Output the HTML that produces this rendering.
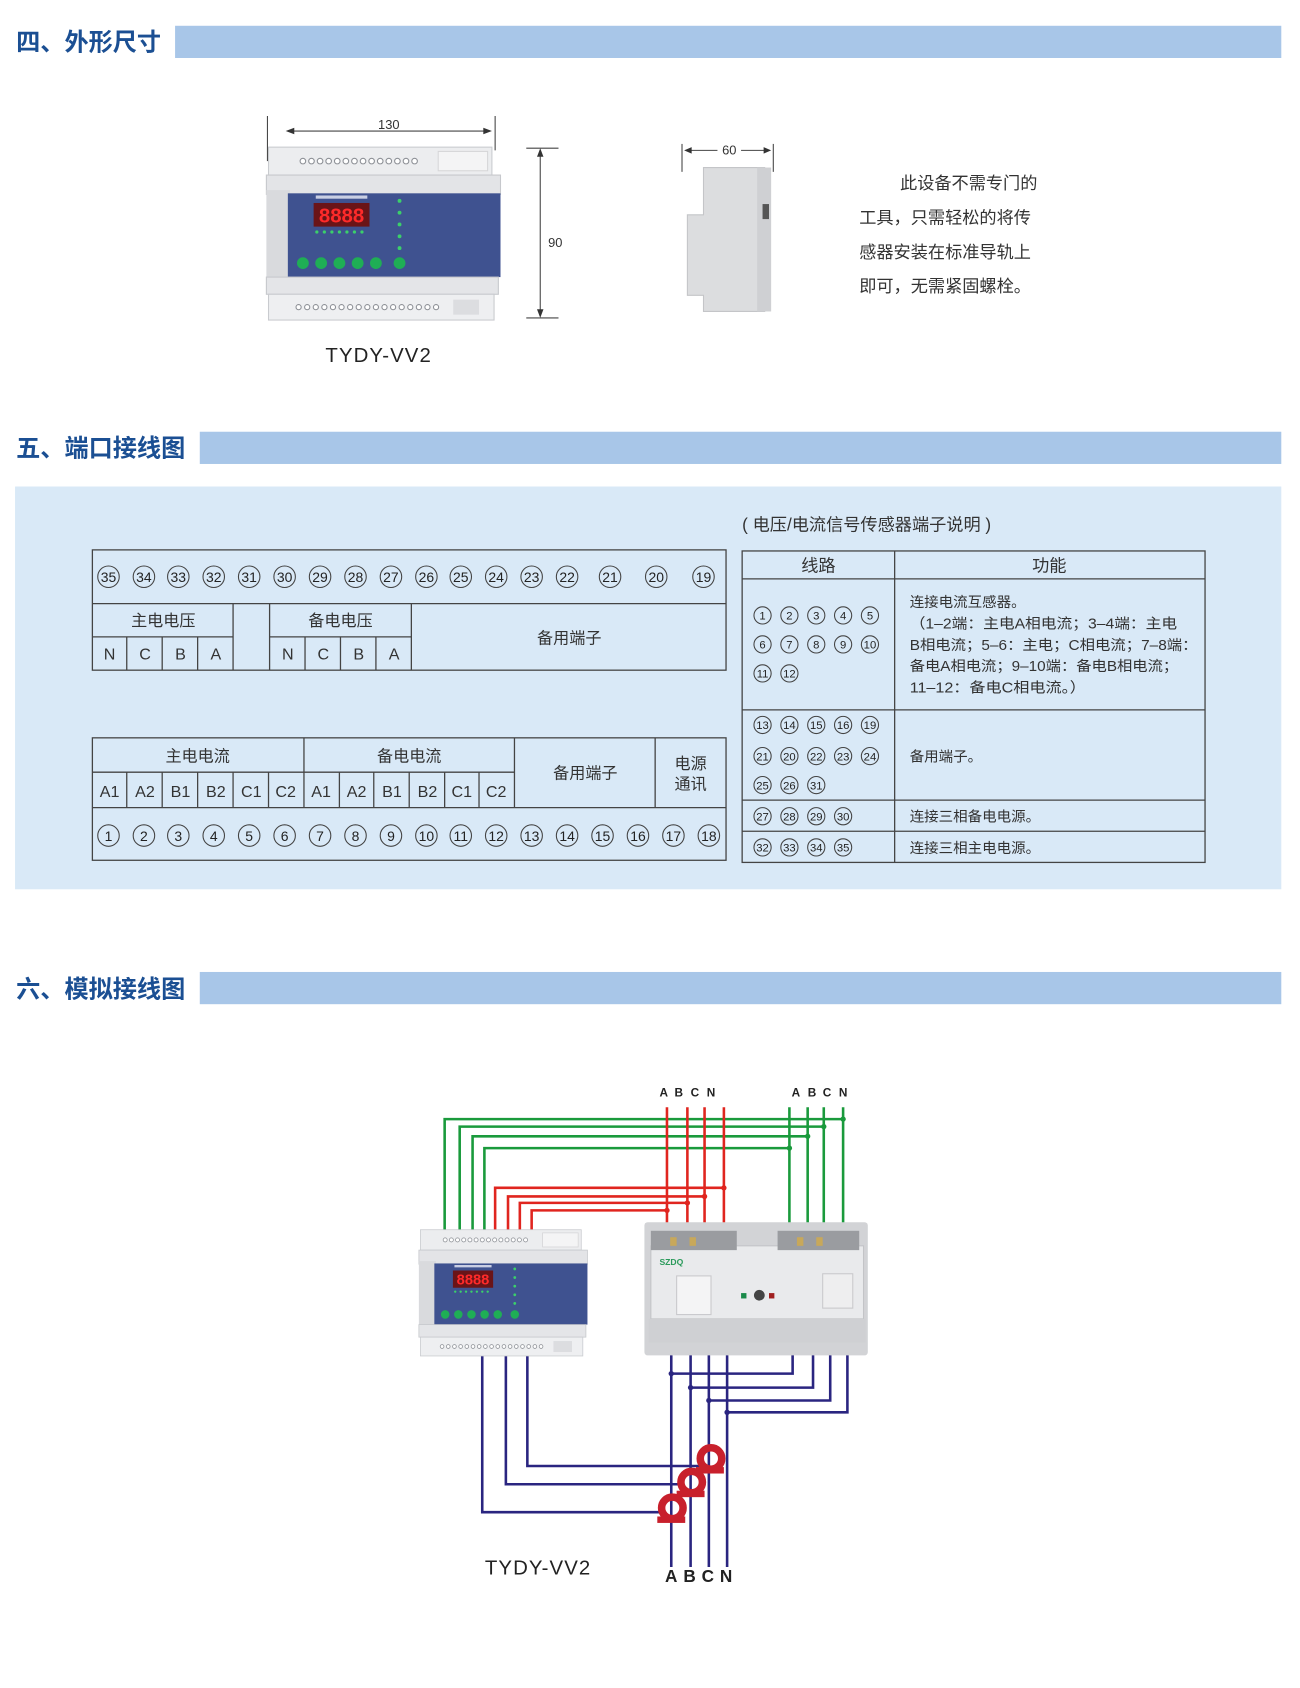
<!DOCTYPE html>
<html><head><meta charset="utf-8"><style>
html,body{margin:0;padding:0;background:#fff;width:1300px;height:1688px;overflow:hidden}
svg{display:block}
text{font-family:"Liberation Sans","Noto Sans CJK SC",sans-serif}
</style></head><body>
<svg xmlns="http://www.w3.org/2000/svg" width="1300" height="1688" viewBox="0 0 1210.4 1571.7">
<defs>
<g id="dev">
  <rect x="2" y="0" width="208" height="26" fill="#ecedef" stroke="#c9cbcf"/>
  <rect x="160" y="4" width="46" height="18" fill="#f4f4f5" stroke="#d6d6d8"/>
  <g fill="#fff" stroke="#8d9096" stroke-width="1">
    <circle cx="34" cy="13" r="2.6"/><circle cx="42" cy="13" r="2.6"/><circle cx="50" cy="13" r="2.6"/><circle cx="58" cy="13" r="2.6"/><circle cx="66" cy="13" r="2.6"/><circle cx="74" cy="13" r="2.6"/><circle cx="82" cy="13" r="2.6"/><circle cx="90" cy="13" r="2.6"/><circle cx="98" cy="13" r="2.6"/><circle cx="106" cy="13" r="2.6"/><circle cx="114" cy="13" r="2.6"/><circle cx="122" cy="13" r="2.6"/><circle cx="130" cy="13" r="2.6"/><circle cx="138" cy="13" r="2.6"/>
  </g>
  <rect x="0" y="26" width="218" height="18" fill="#e3e4e7" stroke="#c6c8cc"/>
  <rect x="0" y="40" width="22" height="86" fill="#d9dadd"/>
  <rect x="20" y="43" width="198" height="78" fill="#3f5290"/>
  <rect x="44" y="52" width="52" height="22" fill="#6a1418"/>
  <text x="70" y="70" font-size="19" fill="#ff2a2a" text-anchor="middle" font-weight="bold" font-family="Liberation Mono">8888</text>
  <rect x="46" y="45" width="48" height="3" fill="#c9cfe4"/>
  <g fill="#3bd06a"><circle cx="47" cy="79" r="1.5"/><circle cx="54" cy="79" r="1.5"/><circle cx="61" cy="79" r="1.5"/><circle cx="68" cy="79" r="1.5"/><circle cx="75" cy="79" r="1.5"/><circle cx="82" cy="79" r="1.5"/><circle cx="89" cy="79" r="1.5"/>
  <circle cx="124" cy="50" r="1.8"/><circle cx="124" cy="61" r="1.8"/><circle cx="124" cy="72" r="1.8"/><circle cx="124" cy="83" r="1.8"/><circle cx="124" cy="94" r="1.8"/></g>
  <g fill="#1fae55"><circle cx="34" cy="108" r="5.5"/><circle cx="51" cy="108" r="5.5"/><circle cx="68" cy="108" r="5.5"/><circle cx="85" cy="108" r="5.5"/><circle cx="102" cy="108" r="5.5"/><circle cx="124" cy="108" r="5.5"/></g>
  <rect x="0" y="121" width="216" height="16" fill="#e4e5e8" stroke="#c6c8cc"/>
  <rect x="2" y="137" width="210" height="24" fill="#eeeff1" stroke="#c9cbcf"/>
  <g fill="#fff" stroke="#8d9096" stroke-width="1">
    <circle cx="30" cy="149" r="2.4"/><circle cx="38" cy="149" r="2.4"/><circle cx="46" cy="149" r="2.4"/><circle cx="54" cy="149" r="2.4"/><circle cx="62" cy="149" r="2.4"/><circle cx="70" cy="149" r="2.4"/><circle cx="78" cy="149" r="2.4"/><circle cx="86" cy="149" r="2.4"/><circle cx="94" cy="149" r="2.4"/><circle cx="102" cy="149" r="2.4"/><circle cx="110" cy="149" r="2.4"/><circle cx="118" cy="149" r="2.4"/><circle cx="126" cy="149" r="2.4"/><circle cx="134" cy="149" r="2.4"/><circle cx="142" cy="149" r="2.4"/><circle cx="150" cy="149" r="2.4"/><circle cx="158" cy="149" r="2.4"/>
  </g>
  <rect x="174" y="142" width="24" height="14" fill="#dcdde0"/>
</g>
</defs>

<!-- Section 4 header -->
<text x="15" y="47" font-size="22.5" font-weight="bold" fill="#1b4f93">四、外形尺寸</text>
<rect x="163" y="24" width="1030" height="30" fill="#a8c6e8"/>

<!-- dimension lines -->
<g stroke="#444" stroke-width="1" fill="none">
  <line x1="249" y1="108" x2="249" y2="150"/><line x1="461" y1="108" x2="461" y2="140"/>
  <line x1="268" y1="122" x2="456" y2="122"/>
  <line x1="490" y1="138" x2="520" y2="138"/><line x1="490" y1="296" x2="520" y2="296"/>
  <line x1="503" y1="140" x2="503" y2="294"/>
  <line x1="635" y1="134" x2="635" y2="160"/><line x1="720" y1="134" x2="720" y2="160"/>
  <line x1="639" y1="140" x2="668" y2="140"/><line x1="690" y1="140" x2="716" y2="140"/>
</g>
<g fill="#333">
  <path d="M266 122 l8 -3 v6z"/><path d="M458 122 l-8 -3 v6z"/>
  <path d="M503 138 l-3 8 h6z"/><path d="M503 296 l-3 -8 h6z"/>
  <path d="M637 140 l7 -3 v6z"/><path d="M718 140 l-7 -3 v6z"/>
</g>
<text x="362" y="120" font-size="12" fill="#333" text-anchor="middle">130</text>
<text x="517" y="230" font-size="12" fill="#333" text-anchor="middle">90</text>
<text x="679" y="144" font-size="12" fill="#333" text-anchor="middle">60</text>
<use href="#dev" transform="translate(248,137)"/>
<!-- side view -->
<path d="M655 156 H712 V290 H655 V275 H640 V200 H655 Z" fill="#dcdddf" stroke="#c4c5c8"/>
<rect x="705" y="156" width="13" height="134" fill="#cfd0d3"/>
<rect x="710" y="190" width="6" height="14" fill="#555"/>
<text x="303" y="337" font-size="19" fill="#222" letter-spacing="1">TYDY-VV2</text>
<g font-size="16" fill="#333">
<text x="838" y="176">此设备不需专门的</text>
<text x="800" y="208">工具，只需轻松的将传</text>
<text x="800" y="240">感器安装在标准导轨上</text>
<text x="800" y="272">即可，无需紧固螺栓。</text>
</g>

<!-- Section 5 header -->
<text x="15" y="425" font-size="22.5" font-weight="bold" fill="#1b4f93">五、端口接线图</text>
<rect x="186" y="402" width="1007" height="30" fill="#a8c6e8"/>
<rect x="14" y="453" width="1179" height="375" fill="#d9e9f7"/>

<!-- top left table -->
<g stroke="#444" stroke-width="1.2" fill="none">
  <rect x="86" y="512" width="590" height="112"/>
  <line x1="86" y1="562" x2="676" y2="562"/>
  <line x1="86" y1="593" x2="217" y2="593"/><line x1="251" y1="593" x2="383" y2="593"/>
  <line x1="118" y1="593" x2="118" y2="624"/><line x1="151" y1="593" x2="151" y2="624"/><line x1="184" y1="593" x2="184" y2="624"/>
  <line x1="217" y1="562" x2="217" y2="624"/><line x1="251" y1="562" x2="251" y2="624"/>
  <line x1="284" y1="593" x2="284" y2="624"/><line x1="317" y1="593" x2="317" y2="624"/><line x1="350" y1="593" x2="350" y2="624"/>
  <line x1="383" y1="562" x2="383" y2="624"/>
  <g stroke-width="1">
  <circle cx="101" cy="537" r="10"/><circle cx="134" cy="537" r="10"/><circle cx="166" cy="537" r="10"/><circle cx="199" cy="537" r="10"/><circle cx="232" cy="537" r="10"/><circle cx="265" cy="537" r="10"/><circle cx="298" cy="537" r="10"/><circle cx="331" cy="537" r="10"/><circle cx="364" cy="537" r="10"/><circle cx="397" cy="537" r="10"/><circle cx="429" cy="537" r="10"/><circle cx="462" cy="537" r="10"/><circle cx="495" cy="537" r="10"/><circle cx="528" cy="537" r="10"/><circle cx="568" cy="537" r="10"/><circle cx="611" cy="537" r="10"/><circle cx="655" cy="537" r="10"/>
  </g>
</g>
<g font-size="13" fill="#222" text-anchor="middle">
<text x="101" y="542">35</text><text x="134" y="542">34</text><text x="166" y="542">33</text><text x="199" y="542">32</text><text x="232" y="542">31</text><text x="265" y="542">30</text><text x="298" y="542">29</text><text x="331" y="542">28</text><text x="364" y="542">27</text><text x="397" y="542">26</text><text x="429" y="542">25</text><text x="462" y="542">24</text><text x="495" y="542">23</text><text x="528" y="542">22</text><text x="568" y="542">21</text><text x="611" y="542">20</text><text x="655" y="542">19</text>
</g>
<g font-size="15" fill="#333" text-anchor="middle">
<text x="152" y="583">主电电压</text><text x="317" y="583">备电电压</text><text x="530" y="599">备用端子</text>
<text x="102" y="614">N</text><text x="135" y="614">C</text><text x="168" y="614">B</text><text x="201" y="614">A</text>
<text x="268" y="614">N</text><text x="301" y="614">C</text><text x="334" y="614">B</text><text x="367" y="614">A</text>
</g>

<!-- bottom left table -->
<g stroke="#444" stroke-width="1.2" fill="none">
  <rect x="86" y="687" width="590" height="114"/>
  <line x1="86" y1="719" x2="479" y2="719"/>
  <line x1="86" y1="752" x2="676" y2="752"/>
  <line x1="283" y1="687" x2="283" y2="752"/><line x1="479" y1="687" x2="479" y2="752"/><line x1="610" y1="687" x2="610" y2="752"/>
  <line x1="118" y1="719" x2="118" y2="752"/><line x1="151" y1="719" x2="151" y2="752"/><line x1="184" y1="719" x2="184" y2="752"/><line x1="217" y1="719" x2="217" y2="752"/><line x1="250" y1="719" x2="250" y2="752"/>
  <line x1="316" y1="719" x2="316" y2="752"/><line x1="348" y1="719" x2="348" y2="752"/><line x1="381" y1="719" x2="381" y2="752"/><line x1="414" y1="719" x2="414" y2="752"/><line x1="446" y1="719" x2="446" y2="752"/>
  <g stroke-width="1">
  <circle cx="101" cy="778" r="10"/><circle cx="134" cy="778" r="10"/><circle cx="166" cy="778" r="10"/><circle cx="199" cy="778" r="10"/><circle cx="232" cy="778" r="10"/><circle cx="265" cy="778" r="10"/><circle cx="298" cy="778" r="10"/><circle cx="331" cy="778" r="10"/><circle cx="364" cy="778" r="10"/><circle cx="397" cy="778" r="10"/><circle cx="429" cy="778" r="10"/><circle cx="462" cy="778" r="10"/><circle cx="495" cy="778" r="10"/><circle cx="528" cy="778" r="10"/><circle cx="561" cy="778" r="10"/><circle cx="594" cy="778" r="10"/><circle cx="627" cy="778" r="10"/><circle cx="660" cy="778" r="10"/>
  </g>
</g>
<g font-size="13" fill="#222" text-anchor="middle">
<text x="101" y="783">1</text><text x="134" y="783">2</text><text x="166" y="783">3</text><text x="199" y="783">4</text><text x="232" y="783">5</text><text x="265" y="783">6</text><text x="298" y="783">7</text><text x="331" y="783">8</text><text x="364" y="783">9</text><text x="397" y="783">10</text><text x="429" y="783">11</text><text x="462" y="783">12</text><text x="495" y="783">13</text><text x="528" y="783">14</text><text x="561" y="783">15</text><text x="594" y="783">16</text><text x="627" y="783">17</text><text x="660" y="783">18</text>
</g>
<g font-size="15" fill="#333" text-anchor="middle">
<text x="184" y="709">主电电流</text><text x="381" y="709">备电电流</text><text x="545" y="725">备用端子</text>
<text x="643" y="716">电源</text><text x="643" y="735">通讯</text>
<text x="102" y="742">A1</text><text x="135" y="742">A2</text><text x="168" y="742">B1</text><text x="201" y="742">B2</text><text x="234" y="742">C1</text><text x="266" y="742">C2</text>
<text x="299" y="742">A1</text><text x="332" y="742">A2</text><text x="365" y="742">B1</text><text x="398" y="742">B2</text><text x="430" y="742">C1</text><text x="462" y="742">C2</text>
</g>

<!-- right table -->
<text x="691" y="494" font-size="16" fill="#333">( 电压/电流信号传感器端子说明 )</text>
<g stroke="#444" stroke-width="1.2" fill="none">
  <rect x="691" y="513" width="431" height="290"/>
  <line x1="833" y1="513" x2="833" y2="803"/>
  <line x1="691" y1="539" x2="1122" y2="539"/>
  <line x1="691" y1="661" x2="1122" y2="661"/>
  <line x1="691" y1="745" x2="1122" y2="745"/>
  <line x1="691" y1="774" x2="1122" y2="774"/>
  <g stroke-width="1">
  <circle cx="710" cy="573" r="8"/><circle cx="735" cy="573" r="8"/><circle cx="760" cy="573" r="8"/><circle cx="785" cy="573" r="8"/><circle cx="810" cy="573" r="8"/>
  <circle cx="710" cy="600" r="8"/><circle cx="735" cy="600" r="8"/><circle cx="760" cy="600" r="8"/><circle cx="785" cy="600" r="8"/><circle cx="810" cy="600" r="8"/>
  <circle cx="710" cy="627" r="8"/><circle cx="735" cy="627" r="8"/>
  <circle cx="710" cy="675" r="8"/><circle cx="735" cy="675" r="8"/><circle cx="760" cy="675" r="8"/><circle cx="785" cy="675" r="8"/><circle cx="810" cy="675" r="8"/>
  <circle cx="710" cy="704" r="8"/><circle cx="735" cy="704" r="8"/><circle cx="760" cy="704" r="8"/><circle cx="785" cy="704" r="8"/><circle cx="810" cy="704" r="8"/>
  <circle cx="710" cy="731" r="8"/><circle cx="735" cy="731" r="8"/><circle cx="760" cy="731" r="8"/>
  <circle cx="710" cy="760" r="8"/><circle cx="735" cy="760" r="8"/><circle cx="760" cy="760" r="8"/><circle cx="785" cy="760" r="8"/>
  <circle cx="710" cy="789" r="8"/><circle cx="735" cy="789" r="8"/><circle cx="760" cy="789" r="8"/><circle cx="785" cy="789" r="8"/>
  </g>
</g>
<g font-size="10.5" fill="#222" text-anchor="middle">
<text x="710" y="577">1</text><text x="735" y="577">2</text><text x="760" y="577">3</text><text x="785" y="577">4</text><text x="810" y="577">5</text>
<text x="710" y="604">6</text><text x="735" y="604">7</text><text x="760" y="604">8</text><text x="785" y="604">9</text><text x="810" y="604">10</text>
<text x="710" y="631">11</text><text x="735" y="631">12</text>
<text x="710" y="679">13</text><text x="735" y="679">14</text><text x="760" y="679">15</text><text x="785" y="679">16</text><text x="810" y="679">19</text>
<text x="710" y="708">21</text><text x="735" y="708">20</text><text x="760" y="708">22</text><text x="785" y="708">23</text><text x="810" y="708">24</text>
<text x="710" y="735">25</text><text x="735" y="735">26</text><text x="760" y="735">31</text>
<text x="710" y="764">27</text><text x="735" y="764">28</text><text x="760" y="764">29</text><text x="785" y="764">30</text>
<text x="710" y="793">32</text><text x="735" y="793">33</text><text x="760" y="793">34</text><text x="785" y="793">35</text>
</g>
<g font-size="16" fill="#333" text-anchor="middle"><text x="762" y="532">线路</text><text x="977" y="532">功能</text></g>
<g font-size="13.5" fill="#333">
<text x="847" y="565">连接电流互感器。</text>
<text x="847" y="585" textLength="249" lengthAdjust="spacingAndGlyphs">（1–2端：主电A相电流；3–4端：主电</text>
<text x="847" y="605" textLength="268" lengthAdjust="spacingAndGlyphs">B相电流；5–6：主电；C相电流；7–8端：</text>
<text x="847" y="625" textLength="250" lengthAdjust="spacingAndGlyphs">备电A相电流；9–10端：备电B相电流；</text>
<text x="847" y="645" textLength="164" lengthAdjust="spacingAndGlyphs">11–12：备电C相电流。）</text>
<text x="847" y="709">备用端子。</text>
<text x="847" y="765">连接三相备电电源。</text>
<text x="847" y="794">连接三相主电电源。</text>
</g>

<!-- Section 6 header -->
<text x="15" y="929" font-size="22.5" font-weight="bold" fill="#1b4f93">六、模拟接线图</text>
<rect x="186" y="905" width="1007" height="30" fill="#a8c6e8"/>

<!-- wiring -->
<g font-size="11" font-weight="bold" fill="#222" text-anchor="middle">
<text x="618" y="1021">A</text><text x="632" y="1021">B</text><text x="647" y="1021">C</text><text x="662" y="1021">N</text>
<text x="741" y="1021">A</text><text x="756" y="1021">B</text><text x="770" y="1021">C</text><text x="785" y="1021">N</text>
</g>
<g stroke="#1a9a3c" stroke-width="2.4" fill="none">
  <path d="M414 1150 V1042 H785"/><path d="M428 1150 V1049 H767"/><path d="M440 1150 V1058 H752"/><path d="M451 1150 V1069 H735"/>
  <line x1="735" y1="1031" x2="735" y2="1155"/><line x1="752" y1="1031" x2="752" y2="1155"/><line x1="767" y1="1031" x2="767" y2="1155"/><line x1="785" y1="1031" x2="785" y2="1155"/>
</g>
<g fill="#1a9a3c"><circle cx="785" cy="1042" r="2.5"/><circle cx="767" cy="1049" r="2.5"/><circle cx="752" cy="1058" r="2.5"/><circle cx="735" cy="1069" r="2.5"/></g>
<g stroke="#e0251f" stroke-width="2.4" fill="none">
  <line x1="621" y1="1031" x2="621" y2="1160"/><line x1="640" y1="1031" x2="640" y2="1160"/><line x1="656" y1="1031" x2="656" y2="1160"/><line x1="674" y1="1031" x2="674" y2="1160"/>
  <path d="M461 1150 V1106 H674"/><path d="M473 1150 V1114 H656"/><path d="M484 1150 V1120 H640"/><path d="M495 1150 V1127 H621"/>
</g>
<g fill="#e0251f"><circle cx="674" cy="1106" r="2.5"/><circle cx="656" cy="1114" r="2.5"/><circle cx="640" cy="1120" r="2.5"/><circle cx="621" cy="1127" r="2.5"/></g>
<g stroke="#2a2580" stroke-width="2.4" fill="none">
  <line x1="625" y1="1255" x2="625" y2="1459"/><line x1="643" y1="1255" x2="643" y2="1459"/><line x1="660" y1="1255" x2="660" y2="1459"/><line x1="677" y1="1255" x2="677" y2="1459"/>
  <path d="M625 1279 H738 V1255"/><path d="M643 1292 H757 V1255"/><path d="M660 1304 H773 V1255"/><path d="M677 1315 H789 V1255"/>
  <path d="M449 1260 V1408 H620"/><path d="M471 1260 V1382 H636"/><path d="M491 1260 V1365 H652"/>
</g>
<g fill="#2a2580"><circle cx="625" cy="1279" r="2.5"/><circle cx="643" cy="1292" r="2.5"/><circle cx="660" cy="1304" r="2.5"/><circle cx="677" cy="1315" r="2.5"/></g>
<!-- CTs -->
<g fill="none" stroke="#c8202c" stroke-width="7">
  <circle cx="626" cy="1404" r="10"/><circle cx="644" cy="1380" r="10"/><circle cx="662" cy="1358" r="10"/>
</g>
<g fill="#c8202c"><rect x="612" y="1412" width="26" height="6"/><rect x="630" y="1388" width="26" height="6"/><rect x="648" y="1366" width="26" height="6"/></g>
<!-- device left -->
<use href="#dev" transform="translate(390,1145) scale(0.72,0.73)"/>
<!-- ATS -->
<rect x="600" y="1138" width="208" height="124" rx="3" fill="#d2d3d6"/>
<rect x="606" y="1160" width="198" height="68" fill="#e9eaec" stroke="#c3c4c7"/>
<rect x="606" y="1146" width="80" height="18" fill="#9a9ca0"/>
<rect x="724" y="1146" width="76" height="18" fill="#9a9ca0"/>
<g fill="#c8a85a"><rect x="624" y="1152" width="6" height="8"/><rect x="642" y="1152" width="6" height="8"/><rect x="742" y="1152" width="6" height="8"/><rect x="760" y="1152" width="6" height="8"/></g>
<rect x="604" y="1228" width="202" height="22" fill="#cfd0d3"/>
<text x="614" y="1178" font-size="8" font-weight="bold" fill="#2a9a5a">SZDQ</text>
<rect x="630" y="1188" width="32" height="36" fill="#f4f4f5" stroke="#c9c9cc"/>
<circle cx="707" cy="1206" r="5" fill="#444"/>
<rect x="690" y="1204" width="5" height="5" fill="#1a8a4a"/><rect x="716" y="1204" width="5" height="5" fill="#a02020"/>
<rect x="766" y="1186" width="28" height="32" fill="#eeeeef" stroke="#c9c9cc"/>
<text x="501" y="1466" font-size="19" fill="#222" text-anchor="middle" letter-spacing="1">TYDY-VV2</text>
<g font-size="16" font-weight="bold" fill="#222" text-anchor="middle">
<text x="625" y="1473">A</text><text x="642" y="1473">B</text><text x="659" y="1473">C</text><text x="676" y="1473">N</text>
</g>
</svg>
</body></html>
